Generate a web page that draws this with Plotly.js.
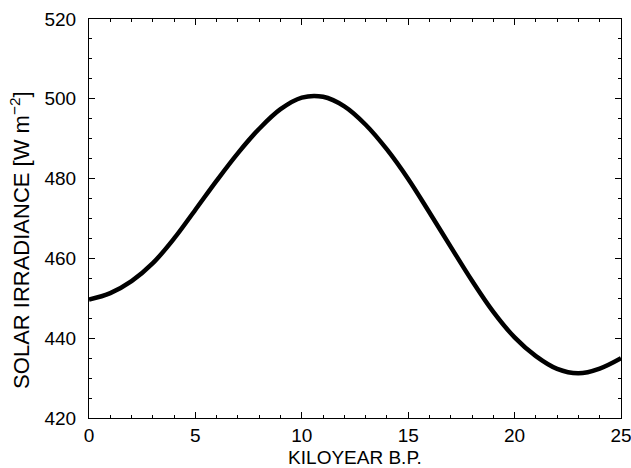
<!DOCTYPE html>
<html>
<head>
<meta charset="utf-8">
<script src="https://cdn.plot.ly/plotly-3.0.1.min.js"></script>
<style>html,body{margin:0;padding:0;background:#fff;}#chart{width:631px;height:468px;}</style>
</head>
<body>
<div id="chart"></div>
<script>
const kiloyear = [0, 1, 2, 3, 4, 5, 6, 7, 8, 9, 10, 11, 12, 13, 14, 15, 16, 17, 18, 19, 20, 21, 22, 23, 24, 25];
const irradiance = [449.7, 451.3, 454.3, 458.8, 465.0, 472.2, 479.5, 486.4, 492.5, 497.4, 500.3, 500.5, 498.1, 493.5, 487.3, 479.9, 471.5, 462.9, 454.4, 446.6, 440.2, 435.5, 432.3, 431.2, 432.4, 435.0];
const xTitle = "KILOYEAR B.P.";
const yTitle = "SOLAR IRRADIANCE [W m<sup>−2</sup>]";

const fam = "Liberation Sans, Arial, sans-serif";
const font = {family: fam, size: 19, color: "#000"};
const yFont = {family: fam, size: 22, color: "#000"};

const trace = {
  x: kiloyear, y: irradiance, type: "scatter", mode: "lines",
  line: {color: "#000", width: 4.5, shape: "spline", smoothing: 1},
  hoverinfo: "skip"
};

const layout = {
  width: 631, height: 468,
  margin: {l: 89, r: 10, t: 19, b: 50},
  paper_bgcolor: "#fff", plot_bgcolor: "#fff",
  font: font,
  showlegend: false,
  xaxis: {
    range: [0, 25], tickvals: [0, 5, 10, 15, 20, 25],
    ticks: "inside", ticklen: 6, tickwidth: 1, tickcolor: "#000",
    showline: true, linecolor: "#000", linewidth: 1, mirror: "ticks",
    showgrid: false, zeroline: false,
    ticklabeloverflow: "allow",
    minor: {dtick: 1, ticks: "inside", ticklen: 3, tickcolor: "#000", showgrid: false},
    title: {text: xTitle, font: font, standoff: 6},
    tickfont: font
  },
  yaxis: {
    range: [420, 520], tickvals: [420, 440, 460, 480, 500, 520],
    ticks: "inside", ticklen: 6, tickwidth: 1, tickcolor: "#000",
    showline: true, linecolor: "#000", linewidth: 1, mirror: "ticks",
    showgrid: false, zeroline: false,
    ticklabelstandoff: 8,
    ticklabeloverflow: "allow",
    minor: {dtick: 5, ticks: "inside", ticklen: 3, tickcolor: "#000", showgrid: false},
    tickfont: font
  },
  annotations: [{
    text: yTitle, xref: "paper", yref: "paper",
    x: -0.13, y: 0.446, xanchor: "center", yanchor: "middle",
    textangle: -90, showarrow: false, font: yFont
  }]
};

Plotly.newPlot("chart", [trace], layout, {staticPlot: true, displayModeBar: false});
</script>
</body>
</html>
